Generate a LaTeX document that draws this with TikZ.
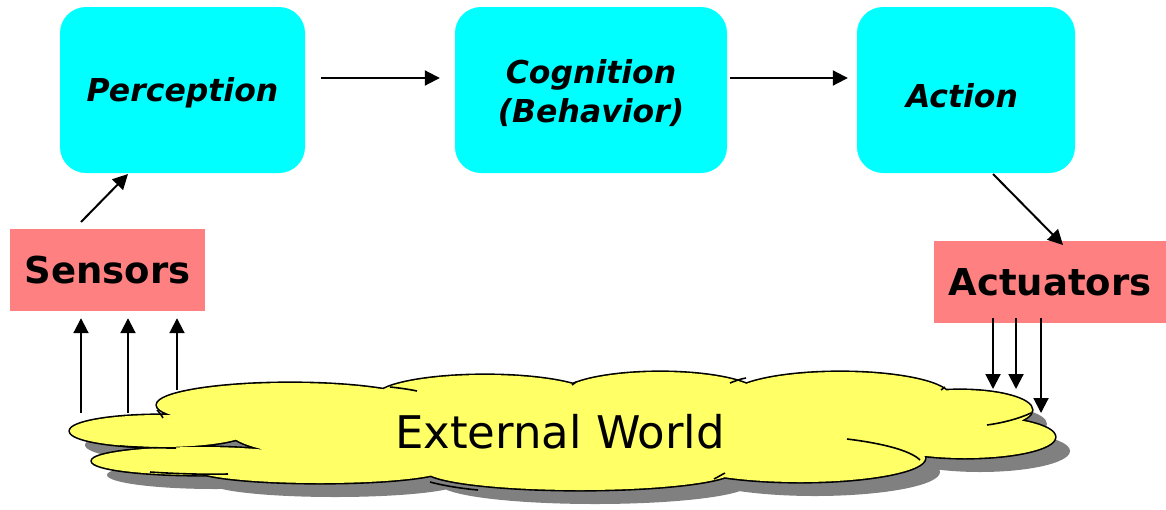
\documentclass[tikz,border=0pt]{standalone}
\usepackage{fontspec}
\setmainfont{DejaVu Sans}
\usetikzlibrary{arrows.meta}
\definecolor{boxcyan}{HTML}{00FFFF}
\definecolor{boxsalmon}{HTML}{FF8080}
\definecolor{cloudyellow}{HTML}{FFFF66}
\definecolor{shadowgray}{HTML}{808080}
\tikzset{
  procbox/.style={fill=boxcyan, rounded corners=26pt, minimum width=#1, minimum height=166pt, inner sep=0pt},
  proctext/.style={font=\fontsize{31.5}{39}\selectfont\bfseries\itshape, align=center, inner sep=0pt},
  devbox/.style={fill=boxsalmon, minimum width=#1, minimum height=82pt, inner sep=0pt,
    font=\fontsize{37}{44}\selectfont\bfseries},
  arr/.style={line width=2pt, -{Triangle[length=15pt,width=15pt]}},
}
\newcommand{\cloudlobes}{
  (160,431) ellipse [x radius=90, y radius=16]
  (200,461) ellipse [x radius=108, y radius=14]
  (320,469) ellipse [x radius=125, y radius=14]
  (290,405) ellipse [x radius=133, y radius=22]
  (485,398) ellipse [x radius=110, y radius=23]
  (660,396) ellipse [x radius=100, y radius=24]
  (840,397) ellipse [x radius=110, y radius=25]
  (960,410) ellipse [x radius=72, y radius=20]
  (965,437) ellipse [x radius=90, y radius=21]
  (880,425) ellipse [x radius=70, y radius=16]
  (800,458) ellipse [x radius=125, y radius=24]
  (580,470) ellipse [x radius=155, y radius=20]
  (560,432) ellipse [x radius=330, y radius=40]
}
\begin{document}
\begin{tikzpicture}[x=1pt,y=-1pt]
\useasboundingbox (0,0) rectangle (1166,509);

% cloud
\fill[shadowgray, shift={(15,14)}] \cloudlobes;
\draw[line width=3.2pt] \cloudlobes;
\fill[cloudyellow] \cloudlobes;
\begin{scope}[line width=1.6pt]
  \draw (120,446) .. controls (140,447.5) and (160,448) .. (176,448);
  \draw (150,472) .. controls (180,474) and (205,474.5) .. (228,474);
  \draw (157,410) .. controls (160,413) and (162,416) .. (163,418);
  \draw (390,387) .. controls (400,388) and (410,389.5) .. (417,391);
  \draw (572,385) -- (576,382);
  \draw (730,383) .. controls (735,381) and (740,379) .. (746,378);
  \draw (941,390) -- (945,387);
  \draw (987,425) .. controls (1002,423) and (1018,419) .. (1031,413);
  \draw (847,439) .. controls (880,443) and (910,450) .. (920,460);
  \draw (725,473) .. controls (721,475) and (718,477) .. (714,479);
  \draw (430,482) .. controls (445,486) and (462,488.5) .. (478,490);
\end{scope}
\node (world) at (560,432) {\fontsize{45}{52}\selectfont External World};

% boxes
\node[procbox=245pt] (perc) at (182.5,90) {};
\node[procbox=272pt] (cog) at (591,90) {};
\node[procbox=218pt] (act) at (966,90) {};
\node[proctext] (percT) at ([yshift=-3pt]perc.center) {Perception};
\node[proctext] (cogT) at ([yshift=-3pt]cog.center) {Cognition\\(Behavior)};
\node[proctext] (actT) at ([yshift=-6pt,xshift=-4pt]act.center) {Action};
\node[devbox=195pt] (sens) at (107.5,270) {Sensors};
\node[devbox=232pt] (actu) at (1050,282) {Actuators};

% connectors
\draw[arr, shorten <=16pt, shorten >=15pt] (perc.east |- 0,78) -- (cog.west |- 0,78);
\draw[arr, shorten <=3pt, shorten >=9pt] (cog.east |- 0,78) -- (act.west |- 0,78);
\coordinate (sp) at (81,222);
\coordinate (pp) at (128,174);
\draw[arr] (sp) -- (pp);
\coordinate (ap) at (993,174);
\coordinate (up) at (1063,245);
\draw[arr] (ap) -- (up);

\coordinate (w1) at (81,413);
\coordinate (w2) at (128,413);
\coordinate (w3) at (177,390);
\draw[arr, shorten >=7pt] (w1) -- (w1 |- sens.south);
\draw[arr, shorten >=7pt] (w2) -- (w2 |- sens.south);
\draw[arr, shorten >=7pt] (w3) -- (w3 |- sens.south);

\coordinate (v1) at (993,389);
\coordinate (v2) at (1016,389);
\coordinate (v3) at (1041,413);
\draw[arr, shorten <=-5pt] (v1 |- actu.south) -- (v1);
\draw[arr, shorten <=-5pt] (v2 |- actu.south) -- (v2);
\draw[arr, shorten <=-5pt] (v3 |- actu.south) -- (v3);
\end{tikzpicture}
\end{document}
